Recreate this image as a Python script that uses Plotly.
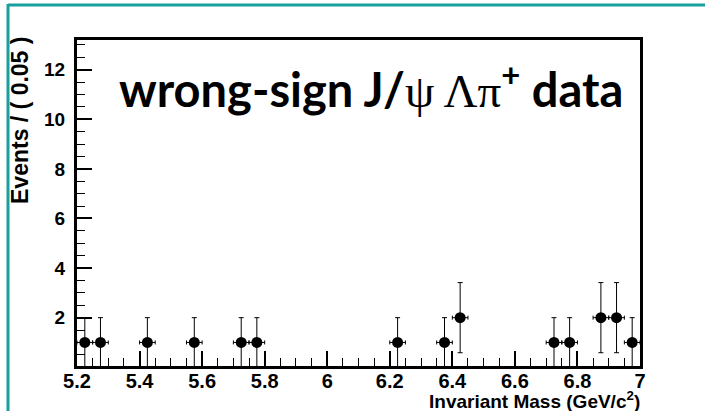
import numpy as np
import plotly.graph_objects as go

# Data: bin centers (bin width 0.05 GeV/c^2) and event counts
mass = [5.225, 5.275, 5.425, 5.575, 5.725, 5.775, 6.225, 6.375, 6.425,
        6.725, 6.775, 6.875, 6.925, 6.975]
counts = [1, 1, 1, 1, 1, 1, 1, 1, 2, 1, 1, 2, 2, 1]
bin_halfwidth = 0.025
x_ticks = [5.2, 5.4, 5.6, 5.8, 6.0, 6.2, 6.4, 6.6, 6.8, 7.0]
x_ticktext = ["5.2", "5.4", "5.6", "5.8", "6", "6.2", "6.4", "6.6", "6.8", "7"]
y_ticks = [2, 4, 6, 8, 10, 12]
y_ticktext = ["2", "4", "6", "8", "10", "12"]

W, H = 705, 411
L, R, T, B = 77, 65, 40, 45
pw, ph = W - L - R, H - T - B

def px(x):
    return (x - L) / pw

def py(y):
    return 1 - (y - T) / ph

errs = [np.sqrt(c) for c in counts]

fig = go.Figure()
fig.add_trace(go.Scatter(
    x=mass, y=counts, mode="markers",
    marker=dict(color="black", size=11),
    error_y=dict(type="data", array=errs, color="black", thickness=1, width=2.5),
    error_x=dict(type="constant", value=bin_halfwidth, color="black", thickness=1, width=2),
    showlegend=False, cliponaxis=True,
))

fig.update_layout(
    width=W, height=H,
    margin=dict(l=L, r=R, t=T, b=B),
    paper_bgcolor="white", plot_bgcolor="white",
    font=dict(family="Liberation Sans", size=20, color="black"),
    xaxis=dict(range=[5.2, 7.0], tickvals=x_ticks, ticktext=["<b>%s</b>" % t for t in x_ticktext],
               ticks="inside", ticklen=15, tickwidth=1.5, tickcolor="black",
               minor=dict(dtick=0.05, ticks="inside", ticklen=8, tickwidth=1, tickcolor="black", tick0=5.2),
               showline=True, linecolor="black", linewidth=3, mirror=True,
               showgrid=False, zeroline=False,
               tickfont=dict(family="Liberation Sans", size=20, color="black"),
               ticklabelstandoff=-5),
    yaxis=dict(range=[0.05, 13.2], tickvals=y_ticks, ticktext=["<b>%s</b>" % t for t in y_ticktext],
               ticks="inside", ticklen=15, tickwidth=1.5, tickcolor="black",
               minor=dict(dtick=0.5, ticks="inside", ticklen=8, tickwidth=1, tickcolor="black", tick0=0),
               showline=True, linecolor="black", linewidth=3, mirror=True,
               showgrid=False, zeroline=False,
               tickfont=dict(family="Liberation Sans", size=19, color="black"),
               ticklabelstandoff=5),
    annotations=[
        dict(text="<b>Events / ( 0.05 )</b>", xref="paper", yref="paper",
             x=px(20), y=py(121), textangle=-90, showarrow=False,
             font=dict(family="Liberation Sans", size=23, color="black"),
             xanchor="center", yanchor="middle"),
        dict(text="<b>Invariant Mass (GeV/c<sup>2</sup>)</b>", xref="paper", yref="paper",
             x=px(642), y=py(400), showarrow=False,
             font=dict(family="Liberation Sans", size=19, color="black"),
             xanchor="right", yanchor="middle"),
        dict(text="<b>wrong-sign J/</b><span style=\"font-family:Liberation Serif\">ψ Λπ</span><b><sup>+</sup> data</b>",
             xref="paper", yref="paper", x=px(371), y=py(86), showarrow=False,
             font=dict(family="Lato", size=47, color="black"),
             xanchor="center", yanchor="middle"),
    ],
    shapes=[
        dict(type="line", xref="paper", yref="paper", x0=px(8), x1=px(710), y0=py(5), y1=py(5),
             line=dict(color="#1a9f9f", width=3)),
        dict(type="line", xref="paper", yref="paper", x0=px(8), x1=px(8), y0=py(4), y1=py(415),
             line=dict(color="#1a9f9f", width=3)),
    ],
)
fig.write_html("out.html")
